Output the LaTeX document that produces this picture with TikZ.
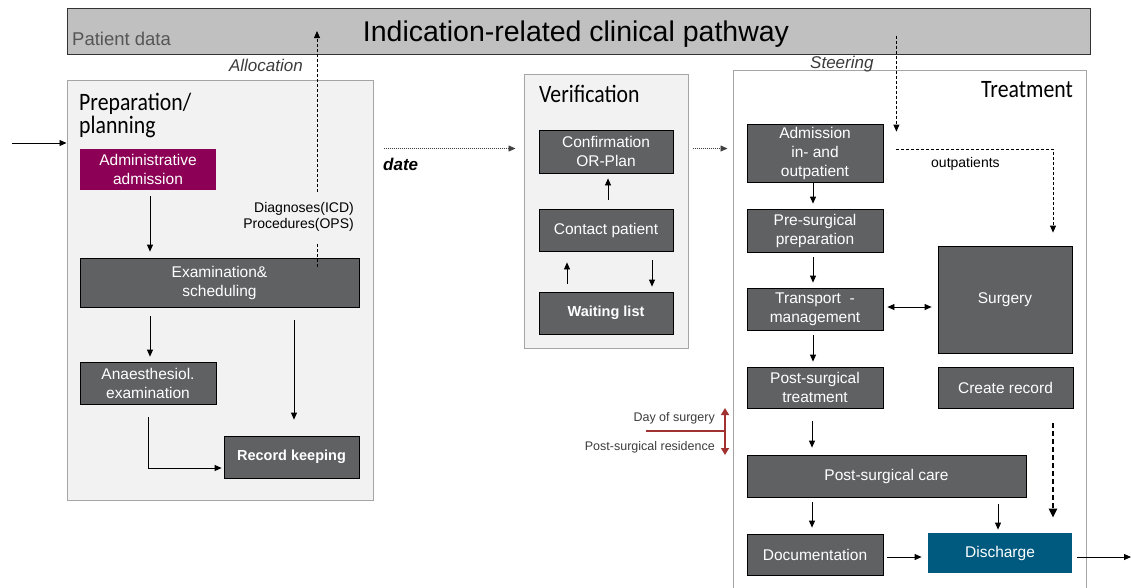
\documentclass[tikz,border=0pt]{standalone}
\usepackage{fontspec}
\setmainfont{Liberation Sans}
\newfontfamily\headfont{Carlito}[FakeStretch=0.87]
\usetikzlibrary{arrows.meta,calc}
\definecolor{boxgray}{RGB}{96,97,99}
\definecolor{panelfill}{RGB}{242,242,242}
\definecolor{panelline}{RGB}{165,165,165}
\definecolor{bannerfill}{RGB}{192,192,192}
\definecolor{admpurple}{RGB}{140,0,85}
\definecolor{dischblue}{RGB}{0,90,128}
\definecolor{dayred}{RGB}{160,50,50}
\definecolor{labelgray}{RGB}{85,85,85}
\definecolor{notegray}{RGB}{60,60,60}

\begin{document}
\begin{tikzpicture}[x=1pt,y=-1pt,
  panel/.style={draw=panelline, line width=1pt, fill=panelfill, inner sep=0pt},
  stepbox/.style={draw=black, line width=0.8pt, fill=boxgray, text=white, align=center,
    inner sep=0pt, font=\fontsize{15.5}{19}\selectfont},
  boldbox/.style={stepbox, font=\fontsize{14.5}{18}\selectfont\bfseries},
  heading/.style={font=\headfont\fontsize{25}{25}\selectfont, inner sep=0pt},
  arr/.style={-{Triangle[length=7pt,width=6pt]}, line width=0.8pt},
  dblarr/.style={{Triangle[length=7pt,width=6pt]}-{Triangle[length=7pt,width=6pt]}, line width=0.8pt},
  dasharr/.style={arr, dash pattern=on 3pt off 2pt},
  dotarr/.style={arr, draw=black!75, dash pattern=on 1pt off 1pt},
  thickdash/.style={-{Triangle[length=9pt,width=8pt]}, line width=2.2pt, dash pattern=on 5pt off 3pt},
  redarr/.style={{Triangle[length=7pt,width=8pt]}-{Triangle[length=7pt,width=8pt]}, line width=1.4pt, draw=dayred},
  note/.style={inner sep=0pt, font=\fontsize{12.5}{14}\selectfont, text=notegray}]

\useasboundingbox (0,0) rectangle (1131,587);

% ---------- pathway banner ----------
\node[draw=black!80, line width=1pt, fill=bannerfill, minimum width=1023pt, minimum height=46pt, inner sep=0pt]
  (banner) at (578.5,31) {};
\node[anchor=base, inner sep=0pt, font=\fontsize{28.5}{30}\selectfont] (title) at (576,41.7)
  {Indication-related clinical pathway};
\node[anchor=base west, inner sep=0pt, font=\fontsize{18.5}{20}\selectfont, text=labelgray] (pdata) at (72,45.7)
  {Patient data};

% ---------- phase panels ----------
\node[panel, minimum width=306pt, minimum height=420pt] (prep) at (220,290) {};
\node[panel, minimum width=164pt, minimum height=274pt] (verif) at (606,211) {};
\node[panel, fill=white, minimum width=353pt, minimum height=530pt] (treat) at (909.5,335) {};

\node[heading, anchor=base west] (preph1) at (79,110) {Preparation/};
\node[heading, anchor=base west] (preph2) at (79,133.5) {planning};
\node[heading, anchor=base west] (verifh) at (539,102) {Verification};
\node[heading, anchor=base east] (treath) at (1073,97) {Treatment};

\node[anchor=base east, inner sep=0pt, font=\fontsize{17}{18}\selectfont\itshape, text=notegray] (alloc) at (303,71.7) {Allocation};
\node[anchor=base west, inner sep=0pt, font=\fontsize{17}{18}\selectfont\itshape, text=notegray] (steer) at (810,68.5) {Steering};
\node[anchor=base west, inner sep=0pt, font=\fontsize{17}{18}\selectfont\bfseries\itshape] (datelbl) at (383,170) {date};
\node[anchor=base west, inner sep=0pt, font=\fontsize{14}{16}\selectfont] (outlbl) at (931,167.5) {outpatients};

% ---------- preparation / planning ----------
\node[stepbox, draw=none, fill=admpurple, minimum width=136pt, minimum height=41pt] (admin) at (148,169.5)
  {Administrative\\admission};
\node[stepbox, minimum width=279pt, minimum height=49pt] (exam) at (219.5,282.5) {Examination\&\\scheduling};
\node[stepbox, minimum width=136pt, minimum height=42pt] (anaes) at (148,383) {Anaesthesiol.\\examination};
\node[boldbox, minimum width=135pt, minimum height=42pt] (record) at (291.5,457) {Record keeping};

% ---------- verification ----------
\node[stepbox, minimum width=134pt, minimum height=43pt] (confirm) at (606,151.5) {Confirmation\\OR-Plan};
\node[stepbox, minimum width=134pt, minimum height=42pt] (contact) at (606,230) {Contact patient};
\node[boldbox, minimum width=134pt, minimum height=42pt] (waiting) at (606,313) {Waiting list};

% ---------- treatment ----------
\node[stepbox, minimum width=136pt, minimum height=58pt] (admission) at (815,153) {Admission\\in- and\\outpatient};
\node[stepbox, minimum width=136pt, minimum height=43pt] (presurg) at (815,230.5) {Pre-surgical\\preparation};
\node[stepbox, minimum width=136pt, minimum height=42pt] (transport) at (815,309) {Transport\ \ -\\management};
\node[stepbox, minimum width=134pt, minimum height=107pt] (surgery) at (1005,299.5) {Surgery};
\node[stepbox, minimum width=136pt, minimum height=41pt] (posttreat) at (815,387.5) {Post-surgical\\treatment};
\node[stepbox, minimum width=135pt, minimum height=41pt] (createrec) at (1005.5,387.5) {Create record};
\node[stepbox, minimum width=279pt, minimum height=42pt] (postcare) at (886.5,476) {Post-surgical care};
\node[stepbox, minimum width=136pt, minimum height=41pt] (doc) at (815,554.5) {Documentation};
\node[stepbox, draw=none, fill=dischblue, minimum width=144pt, minimum height=40pt] (discharge) at (1000,553) {Discharge};

% ---------- day of surgery marker ----------
\node[note, anchor=base east] (daylbl) at (715,421.5) {Day of surgery};
\node[note, anchor=base east] (reslbl) at (715,450) {Post-surgical residence};
\coordinate (dayleft) at (646,431);
\coordinate (dayright) at (725,431);
\coordinate (daytop) at (725,408);
\coordinate (daybot) at (725,455);
\draw[draw=dayred, line width=1.3pt] (dayleft) -- (dayright);
\draw[redarr] (daytop) -- (daybot);

% ---------- connectors: preparation / planning ----------
\coordinate (entry) at (12,143);
\draw[arr] (entry) -- (entry -| prep.west);
\draw[arr, shorten <=6pt, shorten >=6pt] ($(admin.south)+(2,0)$) -- ($(exam.north -| admin.south)+(2,0)$);
\draw[arr, shorten <=9pt, shorten >=5pt] ($(exam.south -| anaes.north)+(2,0)$) -- ($(anaes.north)+(2,0)$);
\draw[arr, shorten <=13pt, shorten >=16pt] ($(exam.south -| record.north)+(2.5,0)$) -- ($(record.north)+(2.5,0)$);
\draw[arr, shorten >=2pt] ($(anaes.south)+(0,13)$) |- ($(record.west)+(0,11)$);

% diagnoses and procedures passed up to the patient data
\coordinate (allocstart) at ($(exam.north)+(97.5,9)$);
\draw[dasharr] (allocstart) -- (allocstart |- banner.center);
\node[anchor=east, fill=panelfill, inner xsep=1pt, inner ysep=10pt, align=right,
  font=\fontsize{14}{16}\selectfont] (codes) at (355,217) {Diagnoses(ICD)\\Procedures(OPS)};

% ---------- connectors between phases ----------
\draw[dotarr] ($(prep.north east)+(10,69)$) -- ($(verif.north west)+(-8,75)$);
\draw[dotarr] ($(verif.north east)+(4,75)$) -- ($(treat.north west)+(-5,79)$);

% ---------- connectors: verification ----------
\draw[arr, shorten <=9pt, shorten >=5pt] ($(contact.north)+(2,0)$) -- ($(confirm.south)+(2,0)$);
\draw[arr, shorten <=8pt, shorten >=11pt] ($(waiting.north)+(-39,0)$) -- ($(contact.south)+(-39,0)$);
\draw[arr, shorten <=9pt, shorten >=5pt] ($(contact.south)+(46,0)$) -- ($(waiting.north)+(46,0)$);

% ---------- connectors: treatment ----------
\coordinate (steertop) at ($(admission.north east)+(13,-88)$);
\draw[dasharr] (steertop) -- ($(admission.north east)+(13,8)$);
\draw[dasharr, shorten >=13pt] ($(admission.east)+(13,-4)$) -| ($(surgery.north)+(48,0)$);

\draw[arr, shorten >=5pt] ($(admission.south)+(-2,0)$) -- ($(presurg.north)+(-2,0)$);
\draw[arr, shorten <=5pt, shorten >=5pt] ($(presurg.south)+(-2,0)$) -- ($(transport.north)+(-2,0)$);
\coordinate (tmlink) at ($(transport.east)+(0,-2)$);
\draw[dblarr, shorten <=4pt, shorten >=6pt] (tmlink) -- (tmlink -| surgery.west);
\draw[arr, shorten <=5pt, shorten >=5pt] ($(transport.south)+(-2,0)$) -- ($(posttreat.north)+(-2,0)$);
\draw[arr, shorten <=13pt, shorten >=7pt] ($(posttreat.south)+(-3,0)$) -- ($(postcare.north -| posttreat.south)+(-3,0)$);
\draw[arr, shorten <=5pt, shorten >=6pt] ($(postcare.south -| doc.north)+(-3,0)$) -- ($(doc.north)+(-3,0)$);
\draw[arr, shorten <=7pt, shorten >=3pt] ($(postcare.south -| discharge.north)+(-2,0)$) -- ($(discharge.north)+(-2,0)$);
\draw[thickdash, shorten <=15pt, shorten >=15pt] ($(createrec.south)+(47.5,0)$) -- ($(discharge.north -| createrec.south)+(47.5,0)$);
\coordinate (doclink) at ($(doc.east)+(0,2.5)$);
\draw[arr, shorten <=4pt, shorten >=6pt] (doclink) -- (doclink -| discharge.west);
\coordinate (exit) at (1131,557);
\draw[arr, shorten <=5pt] (exit -| discharge.east) -- (exit);

\end{tikzpicture}
\end{document}
